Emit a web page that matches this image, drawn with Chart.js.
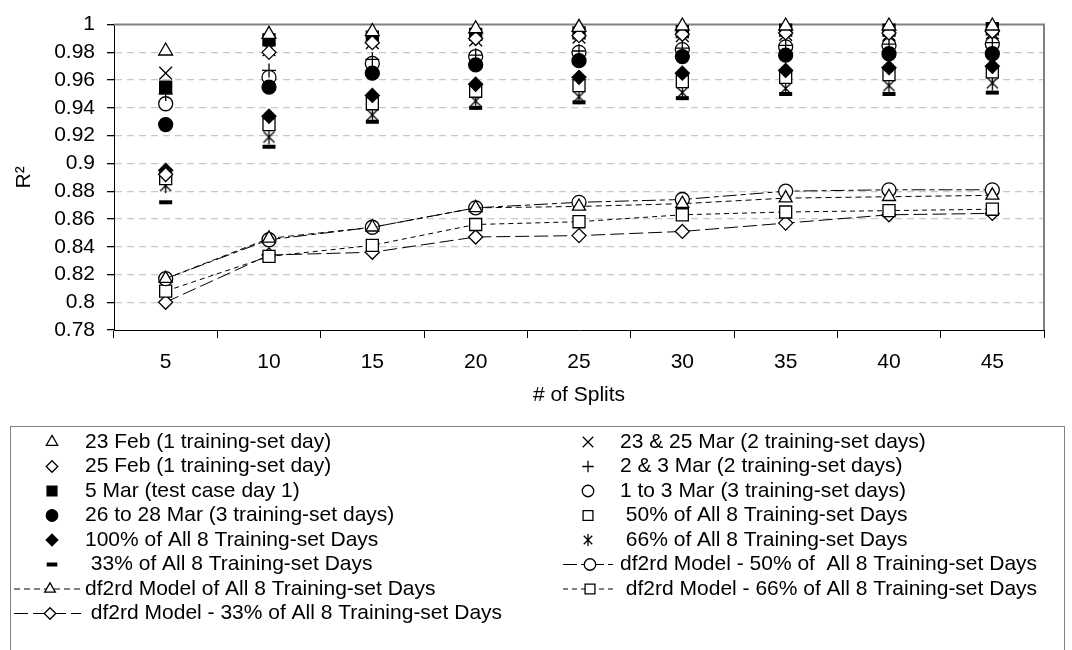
<!DOCTYPE html>
<html>
<head>
<meta charset="utf-8">
<script src="https://cdn.jsdelivr.net/npm/chart.js@4/dist/chart.umd.min.js"></script>
<style>
html, body { margin: 0; background: #fff; }
#wrap { width: 1072px; height: 650px; position: relative; }
</style>
</head>
<body>
<div id="wrap"><canvas id="c"></canvas></div>
<script>
// x categories (# of splits)
var splits = ['5', '10', '15', '20', '25', '30', '35', '40', '45'];

// scatter series
var feb23   = [0.981, 0.993, 0.995, 0.997, 0.998, 0.999, 0.999, 0.999, 0.999];
var feb25   = [0.892, 0.980, 0.987, 0.990, 0.992, 0.993, 0.994, 0.994, 0.995];
var mar5    = [0.955, 0.989, 0.991, 0.993, 0.994, 0.995, 0.996, 0.996, 0.997];
var mar2628 = [0.928, 0.955, 0.965, 0.971, 0.974, 0.977, 0.978, 0.979, 0.979];
var all100  = [0.895, 0.934, 0.949, 0.957, 0.962, 0.965, 0.967, 0.969, 0.970];
var all33   = [0.872, 0.912, 0.930, 0.940, 0.944, 0.947, 0.950, 0.950, 0.951];
var mar2325 = [0.965, 0.982, 0.987, 0.989, 0.991, 0.992, 0.993, 0.993, 0.994];
var mar23   = [0.950, 0.967, 0.975, 0.978, 0.981, 0.983, 0.985, 0.986, 0.987];
var mar13   = [0.943, 0.962, 0.972, 0.977, 0.980, 0.982, 0.984, 0.985, 0.986];
var all50   = [0.889, 0.928, 0.943, 0.952, 0.956, 0.959, 0.962, 0.964, 0.966];
var all66   = [0.884, 0.919, 0.935, 0.945, 0.948, 0.951, 0.954, 0.956, 0.958];

// df2rd model lines
var modelAll = [0.817, 0.846, 0.854, 0.868, 0.869, 0.871, 0.875, 0.876, 0.877];
var model50  = [0.817, 0.845, 0.854, 0.868, 0.872, 0.874, 0.880, 0.881, 0.881];
var model66  = [0.808, 0.833, 0.841, 0.856, 0.858, 0.863, 0.865, 0.866, 0.867];
var model33  = [0.800, 0.834, 0.836, 0.847, 0.848, 0.851, 0.857, 0.863, 0.864];

// y ticks
var yMin = 0.78, yMax = 1, yStep = 0.02;

var FONT = "'Liberation Sans', Arial, sans-serif";

// asterisk marker (x with a vertical bar)
function makeAsterisk(size) {
  var cv = document.createElement('canvas');
  cv.width = size; cv.height = size;
  var g = cv.getContext('2d');
  var c = size / 2, a = size / 2 - 2;
  g.strokeStyle = '#000';
  g.lineWidth = 1.3;
  g.beginPath();
  g.moveTo(c - a * 0.85, c - a * 0.85); g.lineTo(c + a * 0.85, c + a * 0.85);
  g.moveTo(c + a * 0.85, c - a * 0.85); g.lineTo(c - a * 0.85, c + a * 0.85);
  g.moveTo(c, c - a - 1); g.lineTo(c, c + a + 1);
  g.stroke();
  return cv;
}
var asterisk = makeAsterisk(17);
var asteriskSmall = makeAsterisk(14);

function pts(label, data, style, r, fill, bw) {
  return {
    label: label, data: data, showLine: false,
    pointStyle: style, pointRadius: r,
    pointBackgroundColor: fill, pointBorderColor: '#000',
    pointBorderWidth: bw || 1.3, borderColor: '#000', backgroundColor: fill,
    clip: false
  };
}
function model(label, data, style, r, dash) {
  return {
    label: label, data: data, showLine: true,
    borderColor: '#000', borderWidth: 1, borderDash: dash, tension: 0,
    pointStyle: style, pointRadius: r,
    pointBackgroundColor: '#fff', pointBorderColor: '#000', pointBorderWidth: 1.3,
    backgroundColor: '#fff', clip: false
  };
}

var datasets = [
  pts('23 Feb (1 training-set day)', feb23, 'triangle', 8, '#fff'),
  pts('25 Feb (1 training-set day)', feb25, 'rectRot', 7, '#fff'),
  pts('5 Mar (test case day 1)', mar5, 'rect', 8.5, '#000'),
  pts('26 to 28 Mar (3 training-set days)', mar2628, 'circle', 7, '#000'),
  pts('100% of All 8 Training-set Days', all100, 'rectRot', 7, '#000'),
  pts(' 33% of All 8 Training-set Days', all33, 'line', 6.5, '#000', 4),
  pts('23 & 25 Mar (2 training-set days)', mar2325, 'crossRot', 9, '#000'),
  pts('2 & 3 Mar (2 training-set days)', mar23, 'cross', 7, '#000'),
  pts('1 to 3 Mar (3 training-set days)', mar13, 'circle', 7, '#fff'),
  pts(' 50% of All 8 Training-set Days', all50, 'rect', 8.5, '#fff'),
  pts(' 66% of All 8 Training-set Days', all66, asterisk, 8, '#000'),
  model('df2rd Model of All 8 Training-set Days', modelAll, 'triangle', 7.5, [6, 4]),
  model('df2rd Model - 50% of  All 8 Training-set Days', model50, 'circle', 7, [14, 4, 5, 4]),
  model(' df2rd Model - 66% of All 8 Training-set Days', model66, 'rect', 8.5, [5, 4]),
  model(' df2rd Model - 33% of All 8 Training-set Days', model33, 'rectRot', 7, [14, 5])
];

// legend columns (dataset indexes, top to bottom)
var legendLeft = [0, 1, 2, 3, 4, 5, 11, 14];
var legendRight = [6, 7, 8, 9, 10, 12, 13];

var framePlugin = {
  id: 'frame',
  beforeDatasetsDraw: function (chart) {
    var a = chart.chartArea, g = chart.ctx;
    g.save();
    g.strokeStyle = '#808080';
    g.lineWidth = 2;
    g.beginPath();
    g.moveTo(a.left, a.top);
    g.lineTo(a.right, a.top);
    g.lineTo(a.right, a.bottom);
    g.stroke();
    g.restore();
  }
};

var legendPlugin = {
  id: 'boxLegend',
  afterDraw: function (chart) {
    var g = chart.ctx;
    var rowY0 = 442, rowH = 24.5;
    g.save();
    g.strokeStyle = '#808080';
    g.lineWidth = 1;
    g.strokeRect(10.5, 426.5, 1054, 240);
    g.font = '21px ' + FONT;
    g.textBaseline = 'middle';
    g.fillStyle = '#000';

    function item(idx, col, row) {
      var ds = chart.data.datasets[idx];
      var y = rowY0 + row * rowH;
      var mx = col === 0 ? 52 : 588;
      var tx = col === 0 ? 85 : 620;
      if (ds.showLine) {
        mx = col === 0 ? 50 : 590;
        g.save();
        g.strokeStyle = '#000';
        g.lineWidth = 1;
        g.setLineDash(ds.borderDash);
        g.beginPath();
        g.moveTo(col === 0 ? 14 : 563, y);
        g.lineTo(tx - 4, y);
        g.stroke();
        g.restore();
      }
      g.save();
      g.fillStyle = ds.pointBackgroundColor;
      g.strokeStyle = '#000';
      g.lineWidth = ds.pointBorderWidth;
      var style = ds.pointStyle === asterisk ? asteriskSmall : ds.pointStyle;
      Chart.helpers.drawPoint(g, {
        pointStyle: style, rotation: 0,
        radius: ds.pointRadius * 0.82, borderWidth: ds.pointBorderWidth
      }, mx, y);
      g.restore();
      g.fillText(ds.label, tx, y);
    }
    legendLeft.forEach(function (idx, i) { item(idx, 0, i); });
    legendRight.forEach(function (idx, i) { item(idx, 1, i); });
    g.restore();
  }
};

new Chart(document.getElementById('c'), {
  type: 'line',
  data: { labels: splits, datasets: datasets },
  options: {
    responsive: true,
    maintainAspectRatio: false,
    animation: false,
    events: [],
    layout: { padding: { top: 19, right: 28, bottom: 240, left: 0 } },
    plugins: { legend: { display: false }, tooltip: { enabled: false } },
    scales: {
      x: {
        offset: true,
        afterFit: function (s) { s.height = 80; },
        grid: { offset: true, drawOnChartArea: false, drawTicks: true, tickLength: 8, tickColor: '#000' },
        border: { color: '#000', width: 1 },
        ticks: { color: '#000', padding: 12, maxRotation: 0, autoSkip: false, font: { family: FONT, size: 21 } },
        title: {
          display: true, text: '# of Splits', color: '#000',
          font: { family: FONT, size: 21 }, padding: { top: 0, bottom: 2 }
        }
      },
      y: {
        min: yMin, max: yMax,
        afterFit: function (s) { s.width = 114; },
        grid: {
          color: function (c) {
            var v = c.tick ? c.tick.value : 0;
            if (Math.abs(v - yMax) < 1e-6 || Math.abs(v - yMin) < 1e-6) return 'rgba(0,0,0,0)';
            return '#c8c8c8';
          },
          lineWidth: 1.3,
          tickColor: '#000', tickLength: 7, tickBorderDash: []
        },
        border: { color: '#000', width: 1, dash: [7, 5] },
        ticks: {
          stepSize: yStep, autoSkip: false, color: '#000', padding: 12,
          font: { family: FONT, size: 21 },
          callback: function (v) { return String(parseFloat(v.toFixed(2))); }
        },
        title: {
          display: true, text: 'R²', color: '#000',
          font: { family: FONT, size: 21 }, padding: { top: 12, bottom: 0 }
        }
      }
    }
  },
  plugins: [framePlugin, legendPlugin]
});
</script>
</body>
</html>
